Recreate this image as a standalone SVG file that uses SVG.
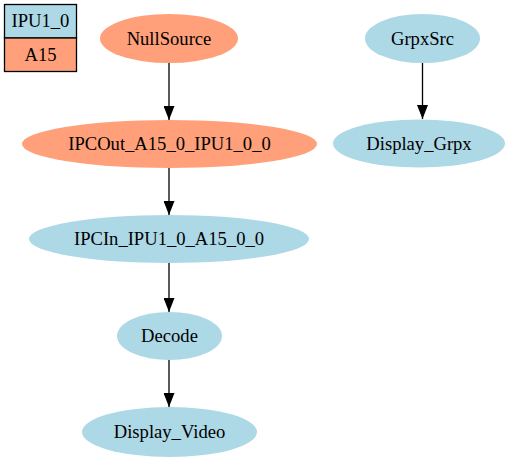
<svg xmlns="http://www.w3.org/2000/svg" width="510" height="461" viewBox="0 0 510 461">
<style>
text{font-family:'Liberation Serif','Times New Roman',serif;font-size:18.6px;fill:#000;text-anchor:middle}
.b{fill:#ADD8E6}
.s{fill:#FFA07A}
.e{stroke:#000;stroke-width:1.3;fill:none}
</style>
<defs>
<marker id="ah" markerWidth="14" markerHeight="11" refX="14" refY="5.5" orient="auto" markerUnits="userSpaceOnUse" viewBox="0 0 14 11">
<path d="M0,0 L14,5.5 L0,11 Z" fill="#000"/>
</marker>
</defs>
<rect width="510" height="461" fill="#fff"/>
<g id="legend">
<rect x="4.5" y="4.5" width="72" height="33.5" class="b" stroke="#000" stroke-width="1.3"/>
<rect x="4.5" y="38" width="72" height="33.5" class="s" stroke="#000" stroke-width="1.3"/>
<text x="40.5" y="27">IPU1_0</text>
<text x="40.5" y="61">A15</text>
</g>
<g id="connectors">
<path class="e" d="M169,63 V120" marker-end="url(#ah)"/>
<path class="e" d="M169,168 V215" marker-end="url(#ah)"/>
<path class="e" d="M169,263 V312" marker-end="url(#ah)"/>
<path class="e" d="M169,360 V407" marker-end="url(#ah)"/>
<path class="e" d="M422.5,63 V119" marker-end="url(#ah)"/>
</g>
<g id="NullSource"><ellipse cx="169" cy="38.5" rx="69" ry="24.5" class="s"/><text x="169" y="44.5">NullSource</text></g>
<g id="IPCOut_A15_0_IPU1_0_0"><ellipse cx="169.5" cy="144" rx="147.5" ry="24" class="s"/><text x="169.5" y="150">IPCOut_A15_0_IPU1_0_0</text></g>
<g id="IPCIn_IPU1_0_A15_0_0"><ellipse cx="169" cy="239" rx="140" ry="24" class="b"/><text x="169" y="245">IPCIn_IPU1_0_A15_0_0</text></g>
<g id="Decode"><ellipse cx="169.5" cy="336" rx="52.5" ry="24" class="b"/><text x="169.5" y="342">Decode</text></g>
<g id="Display_Video"><ellipse cx="169.5" cy="432" rx="87.5" ry="25" class="b"/><text x="169.5" y="438">Display_Video</text></g>
<g id="GrpxSrc"><ellipse cx="422.5" cy="38.5" rx="57.5" ry="24.5" class="b"/><text x="422.5" y="44.5">GrpxSrc</text></g>
<g id="Display_Grpx"><ellipse cx="419" cy="143.5" rx="86" ry="24" class="b"/><text x="419" y="149.5">Display_Grpx</text></g>
</svg>
